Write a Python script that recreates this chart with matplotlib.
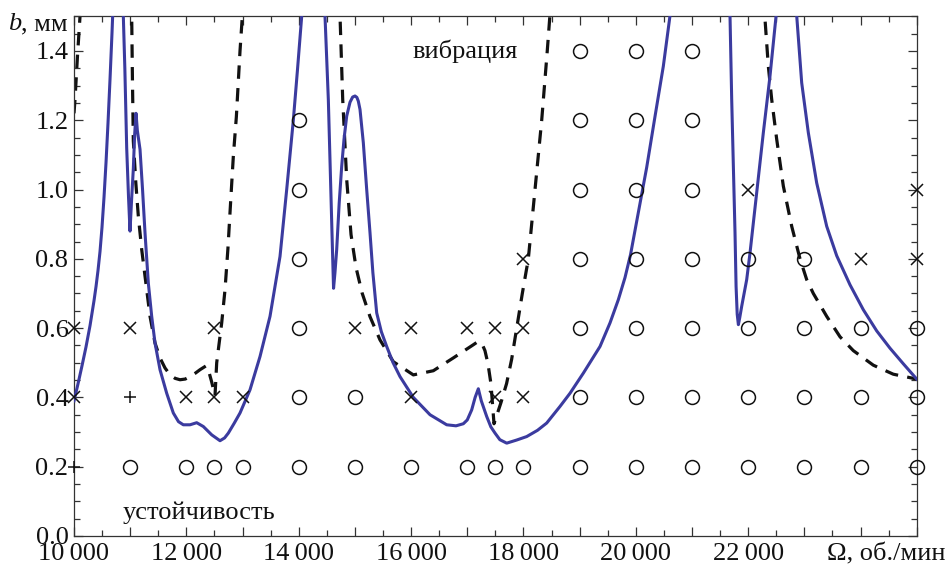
import numpy as np
import matplotlib
matplotlib.use("Agg")
import matplotlib.pyplot as plt
from matplotlib.ticker import MultipleLocator, FuncFormatter

SERIF = ["Liberation Serif", "DejaVu Serif"]
FS = 19
txt = dict(family=SERIF, fontsize=FS, color="#111111")

nan = np.nan

# Stability boundary from the full model (solid), rpm / mm
model_omega = [
    10000, 10071, 10142, 10214, 10285, 10356, 10392, 10427, 10463, 10498, 10534, 10570, 10605, 10641,
    10677, 10694,
    nan,
    10860, 10878, 10905, 10938, 10970, 10997, 11025, 11056, 11080, 11104, 11128, 11175, 11220, 11264,
    11294, 11323, 11383, 11442, 11531, 11650, 11768, 11860, 11946, 12065, 12184, 12302, 12451, 12599,
    12680, 12747, 12850, 12955, 13133, 13311, 13489, 13608, 13667, 13725, 13786, 13904, 13980, 14053,
    14070,
    nan,
    14460, 14468, 14527, 14575, 14605, 14620, 14645, 14676, 14720, 14765, 14806, 14854, 14913, 14960,
    15002, 15035, 15061, 15091, 15150, 15210, 15269, 15320, 15388, 15470, 15566, 15680, 15803, 16040,
    16337, 16634, 16800, 16930, 17000, 17079, 17140, 17197, 17250, 17346, 17420, 17494, 17580, 17702,
    17880, 18058, 18250, 18414, 18651, 18829, 19066, 19363, 19541, 19689, 19808, 19906, 20016, 20194,
    20342, 20490, 20609, 20625,
    nan,
    21670, 21677, 21707, 21736, 21766, 21785, 21805, 21826, 21850, 21885, 21974, 22033, 22152, 22270,
    22389, 22496, 22510,
    nan,
    22850, 22864, 22953, 23071, 23220, 23398, 23576, 23813, 24050, 24288, 24525, 24762, 25000,
]
model_b = [
    0.39, 0.439, 0.491, 0.546, 0.607, 0.679, 0.72, 0.766, 0.821, 0.89, 0.977, 1.078, 1.191, 1.318,
    1.454, 1.526,
    nan,
    1.56, 1.50, 1.35, 1.12, 0.98, 0.88, 0.97, 1.06, 1.16, 1.22, 1.17, 1.116, 1.00, 0.875,
    0.80, 0.73, 0.634, 0.557, 0.48, 0.412, 0.355, 0.33, 0.321, 0.321, 0.327, 0.316, 0.292, 0.275,
    0.283, 0.297, 0.325, 0.355, 0.422, 0.518, 0.634, 0.749, 0.807, 0.902, 1.00, 1.20, 1.35, 1.50,
    1.55,
    nan,
    1.55, 1.50, 1.26, 0.971, 0.80, 0.715, 0.76, 0.827, 0.96, 1.067, 1.145, 1.212, 1.252, 1.267,
    1.27, 1.266, 1.255, 1.231, 1.135, 1.00, 0.875, 0.76, 0.644, 0.59, 0.547, 0.50, 0.46, 0.40,
    0.35, 0.321, 0.318, 0.324, 0.335, 0.364, 0.40, 0.425, 0.39, 0.345, 0.315, 0.297, 0.278, 0.268,
    0.277, 0.287, 0.305, 0.326, 0.374, 0.412, 0.47, 0.547, 0.615, 0.682, 0.746, 0.812, 0.908, 1.064,
    1.211, 1.356, 1.502, 1.55,
    nan,
    1.55, 1.50, 1.26, 1.067, 0.875, 0.72, 0.64, 0.61, 0.63, 0.663, 0.74, 0.817, 0.99, 1.164,
    1.328, 1.50, 1.55,
    nan,
    1.55, 1.502, 1.308, 1.164, 1.019, 0.894, 0.809, 0.725, 0.653, 0.592, 0.542, 0.497, 0.453,
]

# Stability boundary from the simplified model (dashed), rpm / mm
simple_omega = [
    10000, 10018, 10060, 10107, 10120,
    nan,
    11020, 11027, 11040, 11056, 11100, 11145, 11205, 11294, 11353, 11442, 11531, 11620, 11709, 11800,
    11887, 11980, 12065, 12160, 12243, 12350, 12391, 12450, 12510, 12540, 12629, 12688, 12740, 12790,
    12836, 12890, 12955, 12996, 13010,
    nan,
    14730, 14735, 14783, 14854, 14931, 15020, 15127, 15269, 15447, 15684, 16040, 16396, 16752, 17108,
    17190, 17262, 17315, 17369, 17422, 17476, 17600, 17700, 17790, 17880, 17980, 18087, 18206,
    18325, 18424, 18470, 18480,
    nan,
    22290, 22300, 22359, 22419, 22508, 22626, 22775, 22923, 23042, 23160, 23398, 23635, 23872, 24228,
    24583, 25000,
]
simple_b = [
    1.22, 1.26, 1.38, 1.50, 1.55,
    nan,
    1.55, 1.50, 1.32, 1.14, 1.02, 0.923, 0.827, 0.711, 0.634, 0.557, 0.514, 0.485, 0.465, 0.455,
    0.451, 0.453, 0.46, 0.47, 0.48, 0.491, 0.48, 0.445, 0.405, 0.50, 0.615, 0.711, 0.83, 0.97,
    1.096, 1.21, 1.40, 1.50, 1.55,
    nan,
    1.55, 1.502, 1.26, 1.029, 0.87, 0.775, 0.702, 0.633, 0.566, 0.503, 0.465, 0.477, 0.514, 0.552,
    0.561, 0.555, 0.535, 0.497, 0.439, 0.324, 0.385, 0.44, 0.51, 0.60, 0.70, 0.80, 1.00,
    1.20, 1.40, 1.50, 1.53,
    nan,
    1.55, 1.491, 1.356, 1.26, 1.145, 1.01, 0.894, 0.80, 0.74, 0.70, 0.634, 0.575, 0.535, 0.493,
    0.467, 0.453,
]

# Cutting tests: stable (circles)
stable_omega = [19000, 20000, 21000,
                14000, 19000, 20000, 21000,
                14000, 19000, 20000, 21000,
                14000, 19000, 20000, 21000, 22000, 23000,
                14000, 19000, 20000, 21000, 22000, 23000, 24000, 25000,
                14000, 15000, 19000, 20000, 21000, 22000, 23000, 24000, 25000,
                11000, 12000, 12500, 13000, 14000, 15000, 16000, 17000, 17500, 18000,
                19000, 20000, 21000, 22000, 23000, 24000, 25000]
stable_b = [1.4] * 3 + [1.2] * 4 + [1.0] * 4 + [0.8] * 6 + [0.6] * 8 + [0.4] * 9 + [0.2] * 17

# Cutting tests: chatter (crosses)
chatter_omega = [22000, 25000,
                 18000, 24000, 25000,
                 10000, 11000, 12500, 15000, 16000, 17000, 17500, 18000,
                 10000, 12000, 12500, 13000, 16000, 17500, 18000]
chatter_b = [1.0] * 2 + [0.8] * 3 + [0.6] * 8 + [0.4] * 7

# Cutting tests: marginal (plus)
marginal_omega = [11000, 10000]
marginal_b = [0.4, 0.2]

x_labels = {10000: "10\u2009000", 12000: "12\u2009000", 14000: "14\u2009000", 16000: "16\u2009000",
            18000: "18\u2009000", 20000: "20\u2009000", 22000: "22\u2009000"}

fig = plt.figure(figsize=(9.49, 5.67), dpi=100)
ax = fig.add_axes([74 / 949, 1 - 536 / 567, (916.7 - 74) / 949, (536 - 16.3) / 567])

blue = "#3b3b9f"
ax.plot(model_omega, model_b, color=blue, lw=2.2, solid_joinstyle="round", zorder=3)
ax.plot(simple_omega, simple_b, color="#111111", lw=2.3, dashes=(4.2, 2.9),
        dash_capstyle="butt", zorder=2)

mk = dict(linestyle="none", color="#111111", clip_on=False, zorder=4)
ax.plot(stable_omega, stable_b, marker="o", ms=10, mfc="none", mew=1.1, **mk)
ax.plot(chatter_omega, chatter_b, marker="x", ms=8, mew=1.1, **mk)
ax.plot(marginal_omega, marginal_b, marker="+", ms=9, mew=1.1, **mk)

ax.set_xlim(10000, 25000)
ax.set_ylim(0.0, 1.5)
ax.xaxis.set_major_locator(MultipleLocator(1000))
ax.xaxis.set_minor_locator(MultipleLocator(500))
ax.yaxis.set_major_locator(MultipleLocator(0.2))
ax.yaxis.set_minor_locator(MultipleLocator(0.05))
ax.xaxis.set_major_formatter(FuncFormatter(lambda v, p: x_labels.get(int(round(v)), "")))
ax.yaxis.set_major_formatter(FuncFormatter(lambda v, p: f"{v:.1f}"))

ax.tick_params(which="both", direction="in", top=True, right=True, color="#333333", width=0.9,
               labelsize=FS, labelcolor="#111111", labelfontfamily=SERIF)
ax.tick_params(which="major", length=6.5)
ax.tick_params(which="minor", length=4)
ax.tick_params(axis="x", which="major", pad=5)
ax.tick_params(axis="y", which="major", pad=4)
for s in ax.spines.values():
    s.set_color("#333333")
    s.set_linewidth(0.9)

ax.text(16030, 1.38, "вибрация", ha="left", va="baseline", **txt)
ax.text(10870, 0.049, "устойчивость", ha="left", va="baseline", **txt)
ax.annotate("Ω, об./мин", xy=(1, 0), xycoords="axes fraction", xytext=(20.5, -5),
            textcoords="offset points", ha="right", va="top", **txt)

# axis label for b: italic symbol followed by the unit
unit = fig.text(68 / 949, 1 - 30 / 567, ", мм", ha="right", va="baseline", **txt)
fig.canvas.draw()
x0 = unit.get_window_extent().x0 / fig.bbox.width
fig.text(x0, 1 - 30 / 567, "b", ha="right", va="baseline", style="italic", **txt)

fig.savefig("out.png", dpi=100)
